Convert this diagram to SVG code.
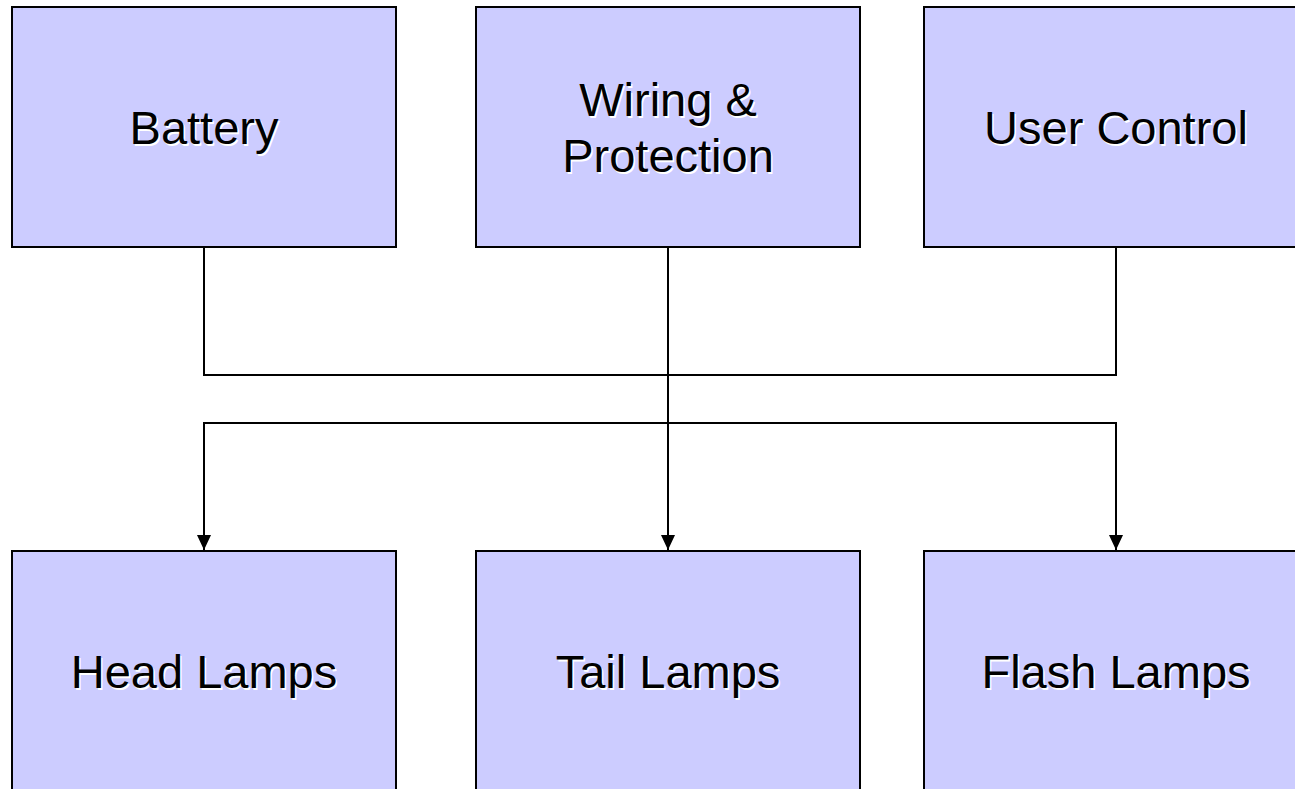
<svg xmlns="http://www.w3.org/2000/svg" width="1295" height="789" viewBox="0 0 1295 789">
  <style>
    .box { fill: #CCCCFF; stroke: #000000; stroke-width: 2; }
    .wire { fill: none; stroke: #000000; stroke-width: 2; }
    .label { font-family: "Liberation Sans", Arial, sans-serif; font-size: 47px; text-anchor: middle; fill: #000000; }
    .shadow { fill: #FFFFFF; }
  </style>
  <defs>
    <marker id="arrow" markerUnits="userSpaceOnUse" markerWidth="16" markerHeight="16" viewBox="0 0 16 16" refX="15" refY="8" orient="auto">
      <path d="M0,1 L15,8 L0,15 Z" fill="#000000"/>
    </marker>
  </defs>
  <rect x="0" y="0" width="1295" height="789" fill="#FFFFFF"/>

  <!-- connectors -->
  <g id="connectors">
    <polyline class="wire" points="204,247 204,375 1116,375 1116,247"/>
    <line class="wire" x1="668" y1="247" x2="668" y2="550" marker-end="url(#arrow)"/>
    <polyline class="wire" points="204,550 204,423 1116,423 1116,550"/>
    <line class="wire" x1="204" y1="440" x2="204" y2="550" marker-end="url(#arrow)"/>
    <line class="wire" x1="1116" y1="440" x2="1116" y2="550" marker-end="url(#arrow)"/>
  </g>

  <!-- inputs -->
  <g id="battery">
    <rect class="box" x="12" y="7" width="384" height="240"/>
    <text class="label shadow" x="205.5" y="145.5">Battery</text>
    <text class="label" x="204" y="144">Battery</text>
  </g>
  <g id="wiring">
    <rect class="box" x="476" y="7" width="384" height="240"/>
    <text class="label shadow" x="669.5" y="117.5">Wiring &amp;</text>
    <text class="label" x="668" y="116">Wiring &amp;</text>
    <text class="label shadow" x="669.5" y="173.5">Protection</text>
    <text class="label" x="668" y="172">Protection</text>
  </g>
  <g id="user-control">
    <rect class="box" x="924" y="7" width="384" height="240"/>
    <text class="label shadow" x="1117.5" y="145.5">User Control</text>
    <text class="label" x="1116" y="144">User Control</text>
  </g>

  <!-- outputs -->
  <g id="head-lamps">
    <rect class="box" x="12" y="551" width="384" height="240"/>
    <text class="label shadow" x="205.5" y="689.5">Head Lamps</text>
    <text class="label" x="204" y="688">Head Lamps</text>
  </g>
  <g id="tail-lamps">
    <rect class="box" x="476" y="551" width="384" height="240"/>
    <text class="label shadow" x="669.5" y="689.5">Tail Lamps</text>
    <text class="label" x="668" y="688">Tail Lamps</text>
  </g>
  <g id="flash-lamps">
    <rect class="box" x="924" y="551" width="384" height="240"/>
    <text class="label shadow" x="1117.5" y="689.5">Flash Lamps</text>
    <text class="label" x="1116" y="688">Flash Lamps</text>
  </g>
</svg>
